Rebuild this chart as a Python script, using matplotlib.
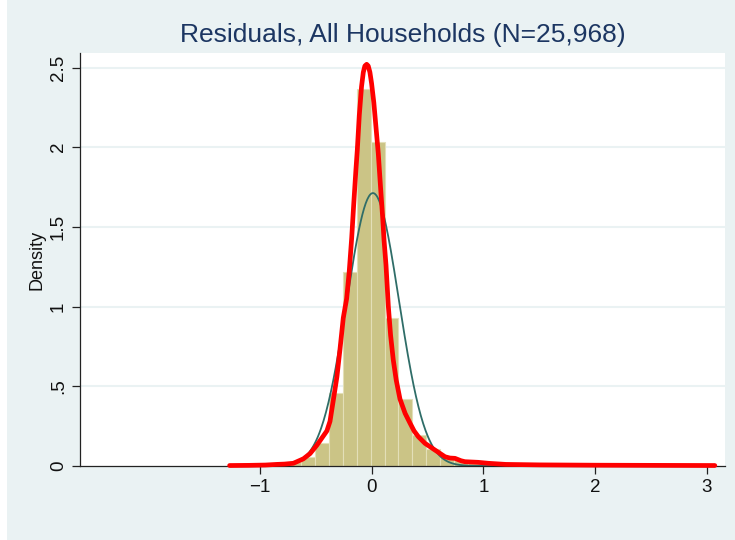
import numpy as np
import matplotlib
matplotlib.use("Agg")
import matplotlib.pyplot as plt
from matplotlib.patches import Rectangle

plt.rcParams['font.family'] = ['Liberation Sans', 'DejaVu Sans']

# ---- data ----
title = "Residuals, All Households (N=25,968)"
bin_start = -1.25
bin_width = 0.1242
bar_heights = [0.003, 0.004, 0.006, 0.012, 0.027, 0.058, 0.142, 0.456, 1.219, 2.365,
               2.031, 0.930, 0.420, 0.195, 0.108, 0.058, 0.036, 0.023, 0.018, 0.013,
               0.010, 0.008, 0.007, 0.006, 0.005, 0.005, 0.004, 0.004, 0.004, 0.003,
               0.003, 0.003, 0.003, 0.003, 0.003]

kde_x = [-1.27, -1.1, -0.95, -0.85, -0.78, -0.70, -0.61, -0.55, -0.49, -0.43, -0.40,
         -0.372, -0.343, -0.31, -0.283, -0.253, -0.223, -0.2, -0.178, -0.16, -0.14,
         -0.128, -0.11, -0.09, -0.074, -0.06, -0.044, -0.03, -0.015, 0.0, 0.02, 0.04,
         0.06, 0.08, 0.10, 0.111, 0.129, 0.15, 0.17, 0.194, 0.22, 0.254, 0.30, 0.343,
         0.38, 0.418, 0.478, 0.567, 0.657, 0.70, 0.746, 0.80, 0.835, 0.954, 1.044,
         1.2, 1.5, 2.0, 2.5, 3.07]
kde_y = [0.003, 0.004, 0.006, 0.010, 0.012, 0.017, 0.045, 0.078, 0.13, 0.19, 0.22,
         0.28, 0.41, 0.56, 0.73, 0.93, 1.05, 1.22, 1.43, 1.64, 1.86,
         1.98, 2.2, 2.38, 2.47, 2.51, 2.52, 2.51, 2.47, 2.40, 2.28, 2.12,
         1.96, 1.75, 1.55, 1.42, 1.26, 1.0, 0.82, 0.665, 0.54, 0.42, 0.33, 0.27,
         0.22, 0.184, 0.142, 0.10, 0.058, 0.05, 0.048, 0.033, 0.027, 0.023, 0.017,
         0.010, 0.007, 0.005, 0.004, 0.003]

normal_mean = 0.012
normal_sd = 0.233

xticks = [-1, 0, 1, 2, 3]
xticklabels = ["\u22121", "0", "1", "2", "3"]
yticks = [0, 0.5, 1, 1.5, 2, 2.5]
yticklabels = ["0", ".5", "1", "1.5", "2", "2.5"]

# ---- styling ----
bg = "#eaf2f3"
fig = plt.figure(figsize=(7.35, 5.4), dpi=100, facecolor=bg)
fig.patches.append(Rectangle((0, 0), 7/735, 1, transform=fig.transFigure,
                             facecolor="white", edgecolor="none", zorder=0))

ax = fig.add_axes([80/735, 1 - 466/540, 645/735, 413/540])
ax.set_facecolor("white")
ax.set_xlim(-2.608, 3.161)
ax.set_ylim(0, 2.591)

for yv in yticks[1:]:
    ax.axhline(yv, color=bg, lw=1.5, zorder=0.5)

n = len(bar_heights)
lefts = bin_start + bin_width * np.arange(n)
ax.bar(lefts, bar_heights, width=bin_width, align='edge', color="#cbc486",
       edgecolor="#e3dfb8", linewidth=0.8, zorder=1)

xs = np.linspace(min(kde_x), max(kde_x), 600)
norm_y = np.exp(-0.5 * ((xs - normal_mean) / normal_sd) ** 2) / (normal_sd * np.sqrt(2 * np.pi))
ax.plot(xs, norm_y, color="#2f6d68", lw=1.3, zorder=2)

ax.plot(kde_x, kde_y, color="#ff0000", lw=3.4, zorder=3, clip_on=False,
        solid_capstyle='round', solid_joinstyle='round')

for s in ["top", "right"]:
    ax.spines[s].set_visible(False)
for s in ["left", "bottom"]:
    ax.spines[s].set_color("#222222")
    ax.spines[s].set_linewidth(0.9)

ax.set_xticks(xticks)
ax.set_xticklabels(xticklabels, fontsize=13.5, color="#111111")
ax.set_yticks(yticks)
ax.set_yticklabels(yticklabels, fontsize=13.5, color="#111111", rotation=90, va='center')
ax.tick_params(axis='both', direction='out', length=5.5, width=0.9, color="#222222", pad=4)

ax.set_ylabel("Density", fontsize=13, color="#111111", labelpad=3)
ax.set_title(title, fontsize=19, color="#1c3662", pad=8)

fig.savefig("out.png", dpi=100, facecolor=bg)
